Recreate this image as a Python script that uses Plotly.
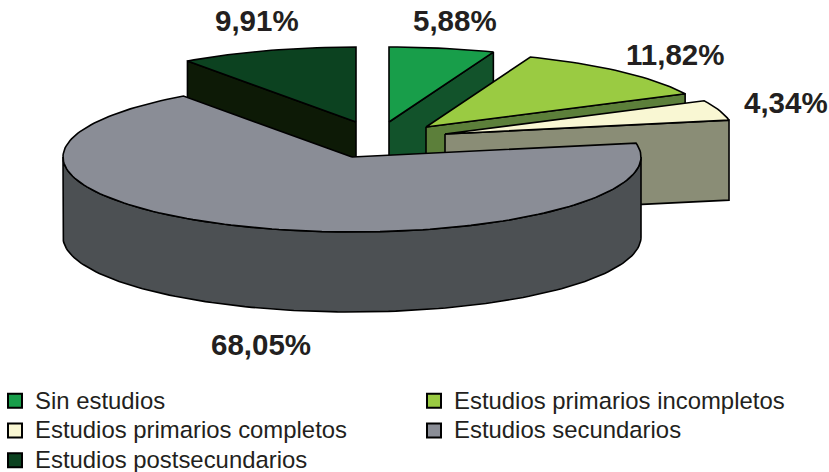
import numpy as np
import plotly.graph_objects as go

categories = ["Sin estudios", "Estudios primarios incompletos", "Estudios primarios completos",
              "Estudios secundarios", "Estudios postsecundarios"]
values = [5.88, 11.82, 4.34, 68.05, 9.91]
labels = ["5,88%", "11,82%", "4,34%", "68,05%", "9,91%"]

top_colors = ["#189E4A", "#9ACB42", "#F9F7D3", "#8A8D96", "#0C4220"]
side_colors = ["#12532B", "#5C7F3A", "#8A8D76", "#4C5053", "#0D1A06"]
centers_x = [389, 426, 445, 352, 356]
centers_y = [122, 127, 134, 157, 122]
label_x = [455, 675, 786, 261, 257]
label_y = [20, 54, 102, 344, 20]
RX, RY, DEPTH = 289, 75, 80
W, H, SHIFT = 960, 560, 5
INK = "#231F20"

total = sum(values)
edges = np.cumsum([0] + values) / total * 2 * np.pi


def pt(i, th, dz=0):
    return centers_x[i] + RX * np.sin(th), centers_y[i] - RY * np.cos(th) + dz


def arc(i, a, b, dz=0):
    th = np.linspace(a, b, max(8, int(abs(b - a) * 40)))
    return pt(i, th, dz)


def poly(x, y, color):
    return go.Scatter(x=list(x), y=list(y), mode="lines", fill="toself", fillcolor=color,
                      line=dict(color="black", width=1.6), showlegend=False, hoverinfo="skip")


def add_cut(fig, i, th):
    px, py = pt(i, th)
    cx, cy = centers_x[i], centers_y[i]
    fig.add_trace(poly([cx, px, px, cx, cx], [cy, py, py + DEPTH, cy + DEPTH, cy], side_colors[i]))


def add_top(fig, i):
    ax, ay = arc(i, edges[i], edges[i + 1])
    cx, cy = centers_x[i], centers_y[i]
    fig.add_trace(poly([cx, *ax, cx], [cy, *ay, cy], top_colors[i]))


fig = go.Figure()
# back to front: postsecundarios, sin estudios, primarios incompletos, primarios completos, secundarios
for i, th in [(4, edges[4]), (0, edges[1]), (1, edges[2]), (2, edges[3])]:
    add_cut(fig, i, th)
    add_top(fig, i)

s = 3
ax, ay = arc(s, np.pi / 2, 3 * np.pi / 2)
bx, by = arc(s, 3 * np.pi / 2, np.pi / 2, DEPTH)
fig.add_trace(poly([*ax, *bx, ax[0]], [*ay, *by, ay[0]], side_colors[s]))
add_top(fig, s)

for name, color in zip(categories, top_colors):
    fig.add_trace(go.Scatter(x=[None], y=[None], mode="markers", name=name,
                             marker=dict(symbol="square", size=14, color=color,
                                         line=dict(color="black", width=2))))

for lab, x, y in zip(labels, label_x, label_y):
    fig.add_annotation(x=x, y=y, text=f"<b>{lab}</b>", showarrow=False,
                       font=dict(family="Liberation Sans", size=29.5, color=INK))

fig.update_layout(
    width=W + SHIFT, height=H, margin=dict(l=0, r=0, t=0, b=0),
    paper_bgcolor="white", plot_bgcolor="white",
    xaxis=dict(range=[-SHIFT, W], visible=False, fixedrange=True),
    yaxis=dict(range=[H, 0], visible=False, fixedrange=True),
    legend=dict(orientation="h", x=0, xanchor="left", y=1 - 381 / H, yanchor="top",
                entrywidth=374, entrywidthmode="pixels", traceorder="normal",
                font=dict(family="Liberation Sans", size=20.5, color=INK),
                bgcolor="rgba(0,0,0,0)"),
)

fig.write_html("out.html", config={"displayModeBar": False},
               post_script=f"document.body.style.margin='0 0 0 -{SHIFT}px';"
                           "document.documentElement.style.overflow='hidden';"
                           "var st=document.createElement('style');"
                           "st.textContent='.legendtext{font-size:23.9px !important}';"
                           "document.head.appendChild(st);")
